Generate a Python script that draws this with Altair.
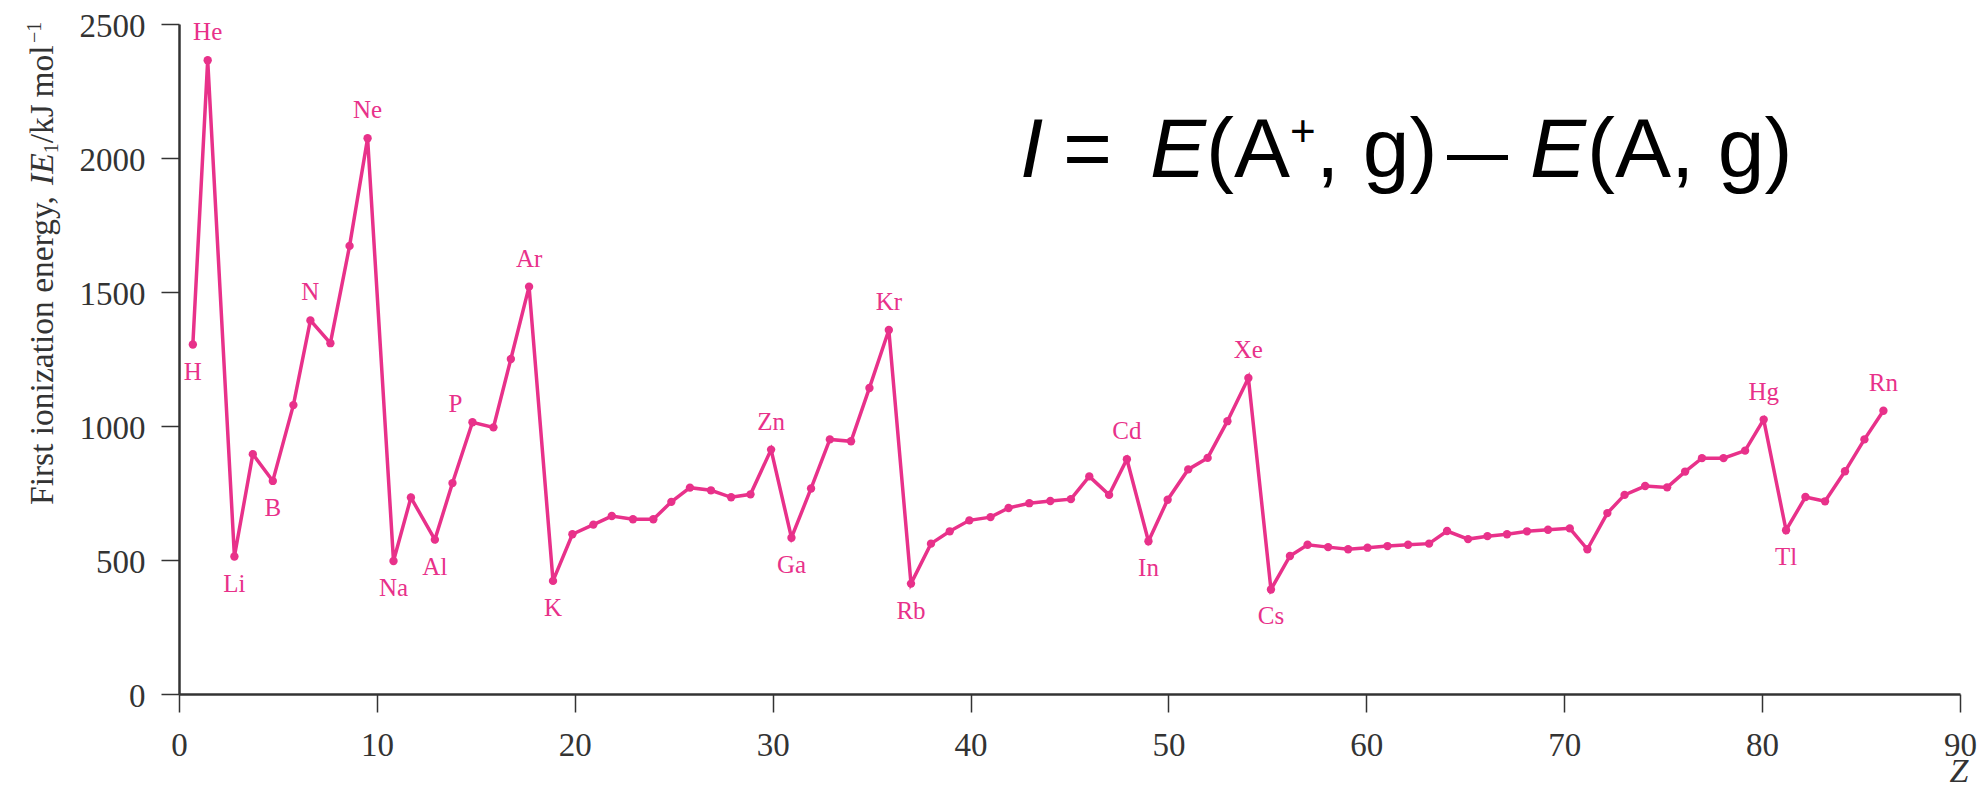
import altair as alt
import pandas as pd

# ---- data ----
symbols = ["H", "He", "Li", "Be", "B", "C", "N", "O", "F", "Ne",
           "Na", "Mg", "Al", "Si", "P", "S", "Cl", "Ar", "K", "Ca",
           "Sc", "Ti", "V", "Cr", "Mn", "Fe", "Co", "Ni", "Cu", "Zn",
           "Ga", "Ge", "As", "Se", "Br", "Kr", "Rb", "Sr", "Y", "Zr",
           "Nb", "Mo", "Tc", "Ru", "Rh", "Pd", "Ag", "Cd", "In", "Sn",
           "Sb", "Te", "I", "Xe", "Cs", "Ba", "La", "Ce", "Pr", "Nd",
           "Pm", "Sm", "Eu", "Gd", "Tb", "Dy", "Ho", "Er", "Tm", "Yb",
           "Lu", "Hf", "Ta", "W", "Re", "Os", "Ir", "Pt", "Au", "Hg",
           "Tl", "Pb", "Bi", "Po", "At", "Rn"]

z_pos = [0.70, 1.45, 2.80, 3.73, 4.74, 5.78, 6.64, 7.65, 8.62, 9.53,
         10.84, 11.72, 12.93, 13.82, 14.83, 15.89, 16.77, 17.69, 18.90, 19.88,
         20.94, 21.87, 22.94, 23.97, 24.88, 25.82, 26.88, 27.90, 28.88, 29.92,
         30.95, 31.94, 32.89, 33.96, 34.89, 35.87, 36.99, 38.00, 38.95, 39.94,
         41.01, 41.92, 42.97, 44.03, 45.07, 46.00, 47.00, 47.90, 48.99, 49.96,
         51.00, 51.98, 52.98, 54.04, 55.18, 56.14, 57.03, 58.07, 59.08, 60.06,
         61.07, 62.11, 63.17, 64.08, 65.14, 66.12, 67.11, 68.12, 69.18, 70.28,
         71.17, 72.18, 73.05, 74.09, 75.20, 76.11, 76.96, 78.05, 79.14, 80.08,
         81.21, 82.19, 83.18, 84.19, 85.17, 86.13]

ie_values = [1304, 2365, 513, 895, 795, 1078, 1394, 1309, 1672, 2074,
             496, 733, 576, 787, 1014, 995, 1250, 1520, 422, 596,
             632, 664, 652, 652, 717, 770, 760, 734, 745, 912,
             583, 767, 950, 943, 1142, 1358, 412, 561, 607, 648,
             660, 694, 712, 720, 727, 812, 743, 876, 570, 725,
             838, 881, 1018, 1179, 390, 515, 557, 548, 540, 546,
             552, 557, 561, 608, 578, 589, 596, 607, 613, 618,
             540, 675, 743, 776, 771, 830, 880, 880, 908, 1024,
             611, 735, 719, 831, 950, 1057]

labels_above = ["He", "N", "Ne", "Ar", "Zn", "Kr", "Cd", "Xe", "Hg", "Rn"]
labels_below = ["H", "Li", "B", "Na", "Al", "K", "Ga", "Rb", "In", "Cs", "Tl"]
labels_left = ["P"]

x_ticks = [0, 10, 20, 30, 40, 50, 60, 70, 80, 90]
y_ticks = [0, 500, 1000, 1500, 2000, 2500]

PINK = "#E8318A"
AXIS = "#333333"
SERIF = "Liberation Serif"
SANS = "Liberation Sans"

df = pd.DataFrame({"Z": z_pos, "IE": ie_values, "sym": symbols})
one = pd.DataFrame({"k": [0]})

x_enc = alt.X(
    "Z:Q",
    scale=alt.Scale(domain=[0, 90], nice=False, zero=False),
    axis=alt.Axis(
        values=x_ticks, format="d", grid=False, tickSize=18, tickWidth=1.5,
        tickColor=AXIS, domainColor=AXIS, domainWidth=2.5, labelFont=SERIF,
        labelFontSize=33, labelColor=AXIS, labelPadding=17, labelFlush=False,
        title="Z", titleFont=SERIF, titleFontSize=34, titleFontStyle="italic",
        titleFontWeight="normal", titleColor=AXIS, titleAlign="right",
        titleBaseline="alphabetic", titleX=1789, titleY=87, titleAngle=0,
    ),
)
y_enc = alt.Y(
    "IE:Q",
    scale=alt.Scale(domain=[0, 2500], nice=False),
    axis=alt.Axis(
        values=y_ticks, format="d", grid=False, tickSize=18, tickWidth=1.5,
        tickColor=AXIS, domainColor=AXIS, domainWidth=2.5, labelFont=SERIF,
        labelFontSize=33, labelColor=AXIS, labelPadding=16, labelFlush=False,
        labelOffset=2, title=None,
    ),
)

base = alt.Chart(df).encode(x=x_enc, y=y_enc)
line = base.mark_line(color=PINK, strokeWidth=3.5)
pts = base.mark_circle(color=PINK, size=70, opacity=1)

lab_kw = dict(font=SERIF, fontSize=25, color=PINK, align="center", baseline="middle")
above = base.transform_filter(
    alt.FieldOneOfPredicate(field="sym", oneOf=labels_above)
).mark_text(dy=-28, **lab_kw).encode(text="sym:N")
below = base.transform_filter(
    alt.FieldOneOfPredicate(field="sym", oneOf=labels_below)
).mark_text(dy=27, **lab_kw).encode(text="sym:N")
left = base.transform_filter(
    alt.FieldOneOfPredicate(field="sym", oneOf=labels_left)
).mark_text(dy=-18, dx=-17, **lab_kw).encode(text="sym:N")


def piece(txt, px, py, align="left", italic=False, size=84, font=SANS,
          color="black", angle=0):
    return alt.Chart(one).mark_text(
        text=txt, align=align, baseline="alphabetic", font=font, fontSize=size,
        fontStyle="italic" if italic else "normal", color=color, angle=angle,
    ).encode(x=alt.value(px), y=alt.value(py))


# formula annotation
formula = [
    piece("I", 841, 153, italic=True),
    piece("=", 908.5, 153, align="center"),
    piece("E", 971, 153, italic=True),
    piece("(A", 1027, 153),
    piece("+", 1111, 122, size=44),
    piece(", g)", 1137, 153),
    piece("E", 1351, 153, italic=True),
    piece("(A, g)", 1408, 153),
]
minus = alt.Chart(one).mark_rule(color="black", strokeWidth=5).encode(
    x=alt.value(1268), x2=alt.value(1329), y=alt.value(133.5)
)

# rotated y-axis title, set in pieces (italic IE, subscript, superscript)
ytitle_kw = dict(font=SERIF, color=AXIS, angle=270)
ytitle = [
    piece("First ionization energy,\u00a0", -126, 481, size=33.5, **ytitle_kw),
    piece("IE", -126, 160.9, size=33.5, italic=True, **ytitle_kw),
    piece("1", -121, 129.3, size=20, **ytitle_kw),
    piece("\u00a0/kJ\u2009mol", -126, 119.3, size=33.5, **ytitle_kw),
    piece("\u22121", -138, 19, size=20, **ytitle_kw),
]

chart = alt.layer(line, pts, above, below, left, minus, *formula, *ytitle).properties(
    width=1781,
    height=670,
    autosize=alt.AutoSizeParams(type="none"),
    padding={"left": 171, "top": 16, "right": 17, "bottom": 97},
).configure_view(stroke=None)

chart.save("out.html", embed_options={"renderer": "svg", "actions": False})
